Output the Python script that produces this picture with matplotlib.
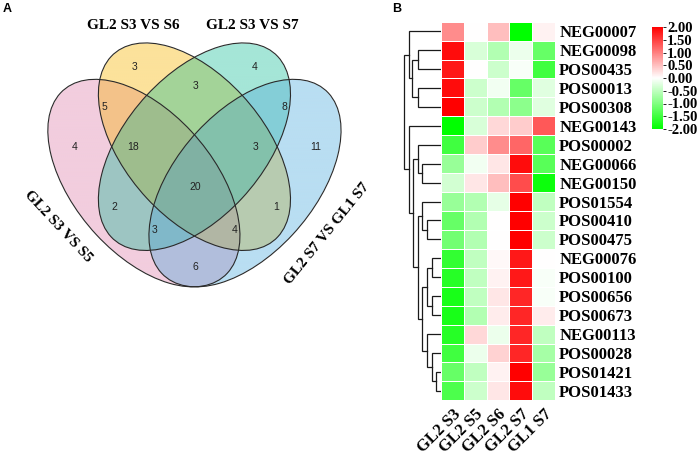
import numpy as np
import matplotlib
matplotlib.use("Agg")
import matplotlib.pyplot as plt
from matplotlib.patches import Ellipse
from matplotlib.colors import LinearSegmentedColormap, to_rgb

# --- datos: Venn ---
venn_sets = ["GL2 S3 VS S5", "GL2 S3 VS S6", "GL2 S3 VS S7", "GL2 S7 VS GL1 S7"]
venn_counts = [4, 3, 4, 11, 5, 3, 8, 18, 3, 20, 2, 1, 3, 4, 6]
# posiciones de las regiones (coordenadas normalizadas del diagrama)
venn_pos = [(0.145, 0.570), (0.323, 0.790), (0.680, 0.790), (0.860, 0.570),
            (0.234, 0.680), (0.502, 0.737), (0.766, 0.680), (0.318, 0.570),
            (0.680, 0.570), (0.502, 0.460), (0.262, 0.405), (0.741, 0.405),
            (0.381, 0.341), (0.620, 0.341), (0.502, 0.240)]

# --- datos: heatmap ---
muestras = ["GL2 S3", "GL2 S5", "GL2 S6", "GL2 S7", "GL1 S7"]
metabolitos = ["NEG00007", "NEG00098", "POS00435", "POS00013", "POS00308",
               "NEG00143", "POS00002", "NEG00066", "NEG00150", "POS01554",
               "POS00410", "POS00475", "NEG00076", "POS00100", "POS00656",
               "POS00673", "NEG00113", "POS00028", "POS01421", "POS01433"]
valores = np.array([
    [0.9, 0.0, 0.5, -2.0, 0.1],
    [1.9, -0.3, -0.6, -0.15, -1.2],
    [1.8, 0.0, -0.4, -0.05, -1.5],
    [1.9, -0.4, -0.1, -1.2, -0.25],
    [2.0, -0.4, -0.6, -0.9, -0.25],
    [-2.0, -0.3, 0.3, 0.4, 1.3],
    [-1.5, 0.4, 0.9, 1.2, -1.3],
    [-0.8, -0.1, 0.2, 1.9, -1.3],
    [-0.35, 0.2, 0.5, 1.4, -1.9],
    [-0.8, -0.6, -0.2, 2.0, -0.5],
    [-1.2, -0.6, 0.0, 2.0, -0.4],
    [-1.1, -0.6, 0.0, 2.0, -0.4],
    [-1.6, -0.5, 0.05, 1.8, 0.0],
    [-1.7, -0.5, 0.1, 1.8, -0.05],
    [-1.8, -0.5, 0.2, 1.7, -0.05],
    [-1.8, -0.6, 0.15, 1.7, 0.15],
    [-1.7, 0.3, -0.15, 1.7, -0.5],
    [-1.5, -0.15, 0.35, 1.7, -0.7],
    [-1.2, -0.5, 0.1, 2.0, -0.8],
    [-1.4, -0.4, 0.2, 1.9, -0.5],
])
# arbol de agrupamiento: [izq, der, altura], hojas = indice de fila
arbol = [
    [0, [[1, 2, 7.0], [3, 4, 7.0], 8.7], 9.7],
    [5, [[6, [7, 8, 5.7], 7.0],
         [[9, [10, 11, 4.2], 5.7],
          [[[12, 13, 2.7], [14, 15, 2.7], 4.2],
           [16, [17, [18, 19, 1.4], 2.7], 4.2], 5.7], 7.0], 8.4], 9.7],
    11.0]

serif = "Liberation Serif"
sans = "Liberation Sans"

fig = plt.figure(figsize=(7, 4.55), dpi=100)
W, H = 700, 455

def caja(x0, y0, x1, y1):
    # pixeles (y hacia abajo) -> fraccion de figura
    return [x0 / W, 1 - y1 / H, (x1 - x0) / W, (y1 - y0) / H]

# --- Panel A: Venn ---
axv = fig.add_axes(caja(0, 0, 400, 455))
xl, yl = (-0.077, 1.110), (-0.277, 0.973)
axv.set_xlim(*xl)
axv.set_ylim(*yl)
axv.axis("off")
centros = [(0.35, 0.47), (0.50, 0.57), (0.50, 0.57), (0.65, 0.47)]
angulos = [135, 135, 45, 45]
colores = ["#F2CDDE", "#FCE29B", "#A5E6D7", "#B9DEF2"]  # tono de cada conjunto solo
semi_a, semi_b = 0.35, 0.20

# relleno: mezcla de transparencia y multiplicacion, como en el original
X, Y = np.meshgrid(np.linspace(*xl, 1000), np.linspace(*yl, 1000))
mult = np.ones(X.shape + (3,))
alfa = np.ones(X.shape + (3,))
dentro_alguno = np.zeros(X.shape, bool)
for (cx, cy), ang, col in zip(centros, angulos, colores):
    th = np.radians(ang)
    u = (X - cx) * np.cos(th) + (Y - cy) * np.sin(th)
    v = -(X - cx) * np.sin(th) + (Y - cy) * np.cos(th)
    dentro = (u / semi_a) ** 2 + (v / semi_b) ** 2 <= 1
    c = np.array(to_rgb(col))
    base = 2 * c - 1
    mult[dentro] *= c
    alfa[dentro] = 0.5 * alfa[dentro] + 0.5 * base
    dentro_alguno |= dentro
img = np.dstack([0.35 * mult + 0.65 * alfa, dentro_alguno.astype(float)])
axv.imshow(np.clip(img, 0, 1), extent=[*xl, *yl], origin="lower",
           aspect="auto", interpolation="bilinear")
for (cx, cy), ang in zip(centros, angulos):
    axv.add_patch(Ellipse((cx, cy), 2 * semi_a, 2 * semi_b, angle=ang,
                          facecolor="none", edgecolor="#2a2a2a", linewidth=0.8))
for n, (x, y) in zip(venn_counts, venn_pos):
    axv.text(x, y, str(n), ha="center", va="center", fontsize=7.5,
             family=sans, color="#222222")
axv.text(0.318, 0.902, venn_sets[1], ha="center", va="center", fontsize=11,
         family=serif, fontweight="bold")
axv.text(0.671, 0.902, venn_sets[2], ha="center", va="center", fontsize=11,
         family=serif, fontweight="bold")
axv.text(0.095, 0.352, venn_sets[0], ha="center", va="center", fontsize=11,
         family=serif, fontweight="bold", rotation=-47)
axv.text(0.893, 0.330, venn_sets[3], ha="center", va="center", fontsize=11,
         family=serif, fontweight="bold", rotation=51)
fig.text(3 / W, 1 - 9 / H, "A", fontsize=9, family=sans, fontweight="bold",
         va="center")
fig.text(392 / W, 1 - 9 / H, "B", fontsize=9, family=sans, fontweight="bold",
         va="center")

# --- Panel B: heatmap ---
cmap = LinearSegmentedColormap.from_list("gwr", ["#00FF00", "#FFFFFF", "#FF0000"])
axh = fig.add_axes(caja(441, 21.7, 555, 400.3))
malla = axh.pcolormesh(valores, cmap=cmap, vmin=-2, vmax=2,
                       edgecolors="white", linewidth=0.5)
axh.set_xlim(0, len(muestras))
axh.set_ylim(len(metabolitos), 0)
axh.yaxis.tick_right()
axh.set_yticks(np.arange(len(metabolitos)) + 0.5)
axh.set_yticklabels(metabolitos, family=serif, fontweight="bold", fontsize=12)
axh.set_xticks(np.arange(len(muestras)) + 0.5)
axh.set_xticklabels(muestras, family=serif, fontweight="bold", fontsize=12,
                    rotation=45, ha="right", rotation_mode="anchor")
axh.tick_params(length=0, pad=3)
axh.tick_params(axis="x", pad=4)
for s in axh.spines.values():
    s.set_visible(False)

# dendrograma
axd = fig.add_axes(caja(402, 21.7, 441, 400.3))
axd.set_xlim(11.7, 0)
axd.set_ylim(len(metabolitos), 0)
axd.axis("off")

def dibujar(nodo):
    if isinstance(nodo, int):
        return nodo + 0.5, 0.0
    izq, der, h = nodo
    y1, h1 = dibujar(izq)
    y2, h2 = dibujar(der)
    axd.plot([h1, h, h, h2], [y1, y1, y2, y2], color="#1a1a1a", lw=0.9,
             solid_joinstyle="miter")
    return (y1 + y2) / 2, h

dibujar(arbol)

# barra de color
axc = fig.add_axes(caja(652, 27, 663, 129))
cb = fig.colorbar(malla, cax=axc)
cb.set_ticks(np.arange(2, -2.01, -0.5))
cb.set_ticklabels([f"{t:.2f}" for t in np.arange(2, -2.01, -0.5)])
cb.outline.set_visible(False)
axc.tick_params(length=2, width=0.6, pad=1)
for t in axc.get_yticklabels():
    t.set_family(serif)
    t.set_fontweight("bold")
    t.set_fontsize(10.5)

fig.savefig("out.png", dpi=100)
